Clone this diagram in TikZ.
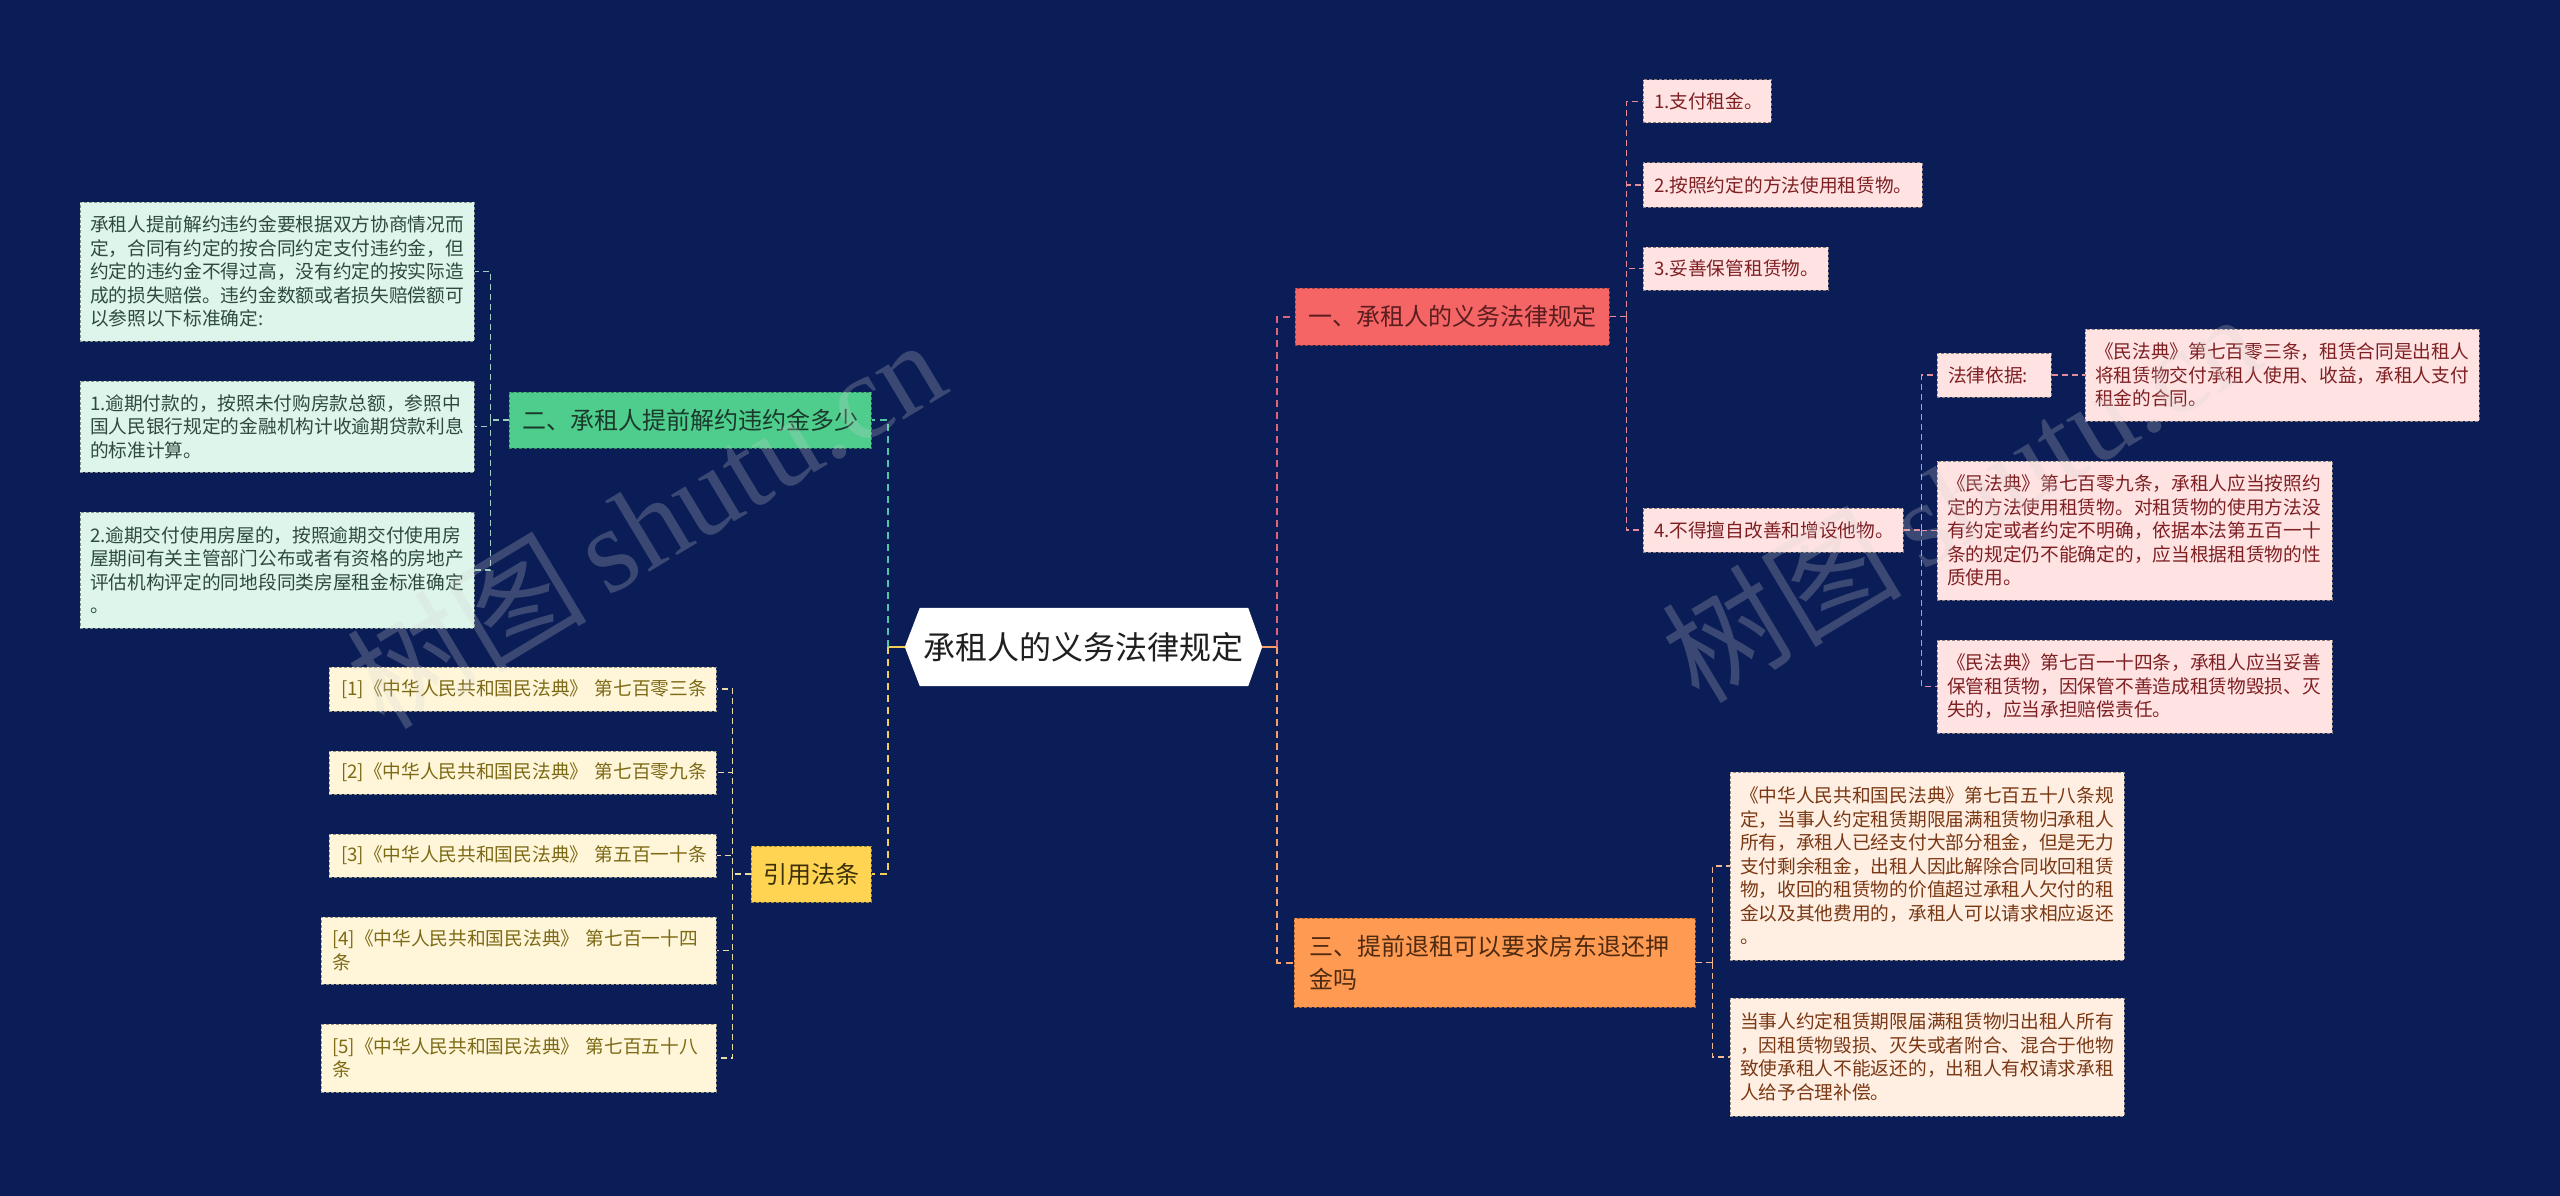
\documentclass[tikz,border=0pt]{standalone}
\usepackage{fontspec}
\setmainfont{Noto Sans CJK SC}
\newfontfamily\wmserif{Liberation Serif}
\usetikzlibrary{backgrounds}
\definecolor{cBg}{HTML}{0B1D56}
\definecolor{cGrnFill}{HTML}{4ECD8D}
\definecolor{cGrnText}{HTML}{1B3A2C}
\definecolor{cGrnLeaf}{HTML}{DDF5EA}
\definecolor{cGrnLeafText}{HTML}{2E4A3E}
\definecolor{cGrnLine}{HTML}{52C7A5}
\definecolor{cGrnLeafLine}{HTML}{9CCFBE}
\definecolor{cYlwFill}{HTML}{FFD452}
\definecolor{cYlwText}{HTML}{3B300A}
\definecolor{cYlwLeaf}{HTML}{FFF6DA}
\definecolor{cYlwLeafText}{HTML}{7D6A16}
\definecolor{cYlwLine}{HTML}{F3D055}
\definecolor{cYlwLeafLine}{HTML}{E9DCA8}
\definecolor{cRedFill}{HTML}{F56565}
\definecolor{cRedText}{HTML}{5A1D20}
\definecolor{cRedLeaf}{HTML}{FFE3E3}
\definecolor{cRedLeafText}{HTML}{7E1F22}
\definecolor{cRedLine}{HTML}{DE6579}
\definecolor{cRedLeafLine}{HTML}{E48C9A}
\definecolor{cOrgFill}{HTML}{FF9A52}
\definecolor{cOrgText}{HTML}{4E2A10}
\definecolor{cOrgLeaf}{HTML}{FFEFE3}
\definecolor{cOrgLeafText}{HTML}{7A3814}
\definecolor{cOrgLine}{HTML}{F3A06A}
\definecolor{cOrgLeafLine}{HTML}{F2B894}
\begin{document}
\begin{tikzpicture}[x=1pt,y=-1pt,
  rootnode/.style={inner sep=0pt, minimum width=357pt, minimum height=78pt,
    font=\fontsize{32}{36}\selectfont, text=black!88},
  mainnode/.style={inner sep=0pt, font=\fontsize{24}{33}\selectfont,
    line width=1pt, dash pattern=on 3pt off 2pt},
  leafbox/.style={inner ysep=0pt, inner xsep=10pt, align=left,
    font=\fontsize{18.7}{23.5}\selectfont, line width=1pt, dash pattern=on 3pt off 2pt},
  gleafbox/.style={leafbox, fill=cGrnLeaf, draw=cGrnLeaf!60!black, text=cGrnLeafText},
  yleafbox/.style={leafbox, fill=cYlwLeaf, draw=cYlwLeaf!60!black, text=cYlwLeafText},
  rleafbox/.style={leafbox, fill=cRedLeaf, draw=cRedLeaf!55!black, text=cRedLeafText},
  oleafbox/.style={leafbox, fill=cOrgLeaf, draw=cOrgLeaf!60!black, text=cOrgLeafText},
  trunk/.style={line width=2pt, dash pattern=on 7pt off 5pt},
  twig/.style={line width=1.5pt, dash pattern=on 6pt off 4pt},
  watermark/.style={rotate=31, opacity=0.24, text=white!65!gray,
    font=\fontsize{120}{120}\selectfont}
]
\begin{scope}[on background layer]
  \fill[cBg] (0,0) rectangle (2560,1196);
\end{scope}
\useasboundingbox (0,0) rectangle (2560,1196);

% ---------- root ----------
\node[rootnode] (root) at (1083.5,647) {承租人的义务法律规定};
\begin{scope}[on background layer]
  \fill[white] (root.west) -- ([xshift=15pt]root.north west) -- ([xshift=-14pt]root.north east)
    -- (root.east) -- ([xshift=-14pt]root.south east) -- ([xshift=15pt]root.south west) -- cycle;
\end{scope}

% ---------- main branches ----------
\node[mainnode, fill=cGrnFill, draw=cGrnFill!65!black, text=cGrnText,
  minimum width=362pt, minimum height=56pt] (n2) at (690,420) {二、承租人提前解约违约金多少};
\node[mainnode, fill=cYlwFill, draw=cYlwFill!65!black, text=cYlwText,
  minimum width=120pt, minimum height=56pt] (ref) at (811,874) {引用法条};
\node[mainnode, fill=cRedFill, draw=cRedFill!65!black, text=cRedText,
  minimum width=314pt, minimum height=57pt] (n1) at (1452,316.5) {一、承租人的义务法律规定};
\node[mainnode, fill=cOrgFill, draw=cOrgFill!65!black, text=cOrgText, align=left,
  inner xsep=15pt, text width=371pt, minimum height=89pt] (n3) at (1494.5,962.5)
  {三、提前退租可以要求房东退还押\\金吗};

% ---------- green leaves ----------
\node[gleafbox, text width=374pt, minimum height=139pt] (g1) at (277,271.5)
  {承租人提前解约违约金要根据双方协商情况而\\定，合同有约定的按合同约定支付违约金，但\\约定的违约金不得过高，没有约定的按实际造\\成的损失赔偿。违约金数额或者损失赔偿额可\\以参照以下标准确定:};
\node[gleafbox, text width=374pt, minimum height=91pt] (g2) at (277,426.5)
  {1.逾期付款的，按照未付购房款总额，参照中\\国人民银行规定的金融机构计收逾期贷款利息\\的标准计算。};
\node[gleafbox, text width=374pt, minimum height=116pt] (g3) at (277,570)
  {2.逾期交付使用房屋的，按照逾期交付使用房\\屋期间有关主管部门公布或者有资格的房地产\\评估机构评定的同地段同类房屋租金标准确定\\。};

% ---------- yellow leaves ----------
\node[yleafbox, inner xsep=12pt, text width=363pt, minimum height=44pt] (r1) at (522.5,689)
  {\mbox{[1]《中华人民共和国民法典》 第七百零三条}};
\node[yleafbox, inner xsep=12pt, text width=363pt, minimum height=43pt] (r2) at (522.5,772.5)
  {\mbox{[2]《中华人民共和国民法典》 第七百零九条}};
\node[yleafbox, inner xsep=12pt, text width=363pt, minimum height=43pt] (r3) at (522.5,855.5)
  {\mbox{[3]《中华人民共和国民法典》 第五百一十条}};
\node[yleafbox, inner xsep=11pt, text width=373pt, minimum height=67pt] (r4) at (518.5,950.5)
  {[4]《中华人民共和国民法典》 第七百一十四\\条};
\node[yleafbox, inner xsep=11pt, text width=373pt, minimum height=68pt] (r5) at (518.5,1058)
  {[5]《中华人民共和国民法典》 第七百五十八\\条};

% ---------- red leaves ----------
\node[rleafbox, inner xsep=11pt, text width=106pt, minimum height=43pt] (p1) at (1707,101.5) {1.支付租金。};
\node[rleafbox, inner xsep=11pt, text width=257pt, minimum height=44pt] (p2) at (1782.5,185) {2.按照约定的方法使用租赁物。};
\node[rleafbox, inner xsep=11pt, text width=163pt, minimum height=43pt] (p3) at (1735.5,268.5) {3.妥善保管租赁物。};
\node[rleafbox, inner xsep=11pt, text width=238pt, minimum height=44pt] (p4) at (1773,530) {4.不得擅自改善和增设他物。};
\node[rleafbox, inner xsep=11pt, text width=92pt, minimum height=44pt] (q1) at (1994,375) {法律依据:};
\node[rleafbox, text width=374pt, minimum height=92pt] (q1a) at (2282,375)
  {《民法典》第七百零三条，租赁合同是出租人\\将租赁物交付承租人使用、收益，承租人支付\\租金的合同。};
\node[rleafbox, text width=375pt, minimum height=139pt] (q2) at (2134.5,530.5)
  {《民法典》第七百零九条，承租人应当按照约\\定的方法使用租赁物。对租赁物的使用方法没\\有约定或者约定不明确，依据本法第五百一十\\条的规定仍不能确定的，应当根据租赁物的性\\质使用。};
\node[rleafbox, text width=375pt, minimum height=93pt] (q3) at (2134.5,686.5)
  {《民法典》第七百一十四条，承租人应当妥善\\保管租赁物，因保管不善造成租赁物毁损、灭\\失的，应当承担赔偿责任。};

% ---------- orange leaves ----------
\node[oleafbox, text width=374pt, minimum height=188pt] (o1) at (1927,866)
  {《中华人民共和国民法典》第七百五十八条规\\定，当事人约定租赁期限届满租赁物归承租人\\所有，承租人已经支付大部分租金，但是无力\\支付剩余租金，出租人因此解除合同收回租赁\\物，收回的租赁物的价值超过承租人欠付的租\\金以及其他费用的，承租人可以请求相应返还\\。};
\node[oleafbox, text width=374pt, minimum height=118pt] (o2) at (1927,1057)
  {当事人约定租赁期限届满租赁物归出租人所有\\，因租赁物毁损、灭失或者附合、混合于他物\\致使承租人不能返还的，出租人有权请求承租\\人给予合理补偿。};

% ---------- trunk connectors ----------
\draw[cYlwLine, line width=2pt] (root.west) -- ++(-17,0) coordinate (lj);
\draw[cOrgLine, line width=2pt] (root.east) -- ++(15,0) coordinate (rj);
\draw[trunk, cGrnLine] (lj) |- (n2.east);
\draw[trunk, cYlwLine] (lj) |- (ref.east);
\draw[trunk, cRedLine] (rj) |- (n1.west);
\draw[trunk, cOrgLine] (rj) |- (n3.west);

% ---------- branch connectors ----------
\draw[twig, cGrnLeafLine] (n2.west) -- ++(-18,0) coordinate (gj);
\foreach \c in {g1,g2,g3} \draw[twig, cGrnLeafLine] (gj) |- (\c.east);

\draw[twig, cYlwLeafLine] (ref.west) -- ++(-18,0) coordinate (yj);
\foreach \c in {r1,r2,r3,r4,r5} \draw[twig, cYlwLeafLine] (yj) |- (\c.east);

\draw[twig, cRedLeafLine] (n1.east) -- ++(17,0) coordinate (pj);
\foreach \c in {p1,p2,p3,p4} \draw[twig, cRedLeafLine] (pj) |- (\c.west);

\draw[twig, cRedLeafLine] (p4.east) -- ++(18,0) coordinate (qj);
\foreach \c in {q1,q2,q3} \draw[twig, cRedLeafLine] (qj) |- (\c.west);
\draw[twig, cRedLeafLine] (q1.east) -- (q1a.west);

\draw[twig, cOrgLeafLine] (n3.east) -- ++(17,0) coordinate (oj);
\foreach \c in {o1,o2} \draw[twig, cOrgLeafLine] (oj) |- (\c.west);

% ---------- watermarks ----------
\node[watermark] (wm1) at (645,522) {树图\,{\wmserif shutu.cn}};
\node[watermark] (wm2) at (1960,496) {树图\,{\wmserif shutu.cn}};
\end{tikzpicture}
\end{document}
